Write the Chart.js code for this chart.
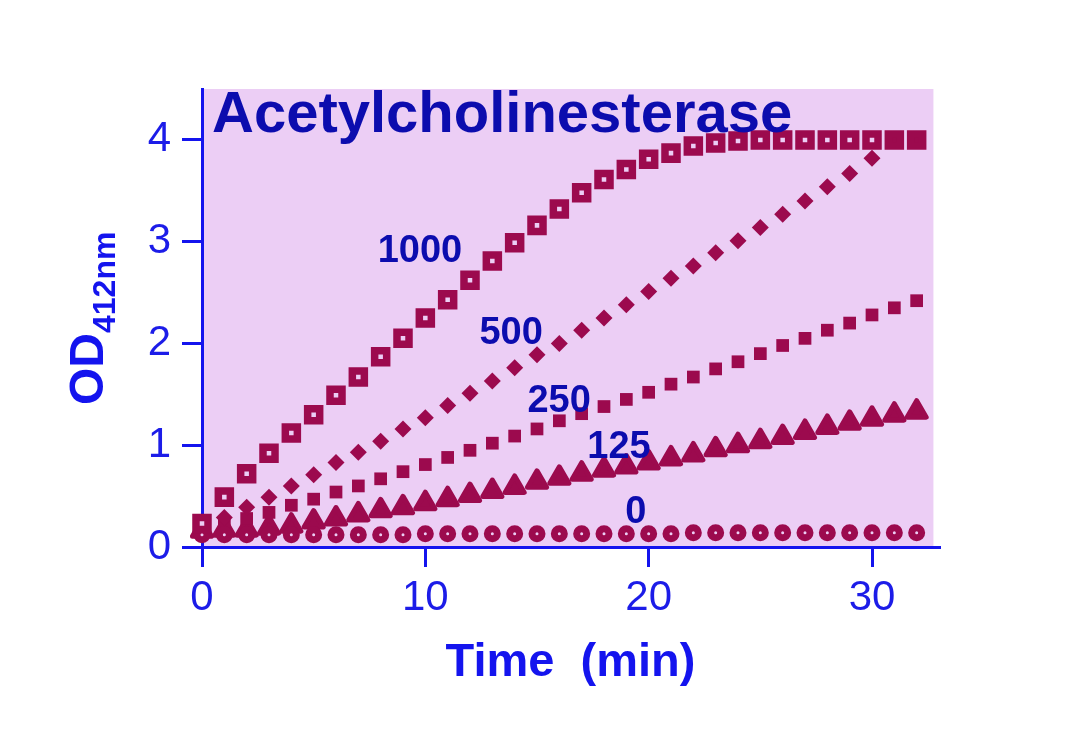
<!DOCTYPE html>
<html>
<head>
<meta charset="utf-8">
<script src="https://cdn.jsdelivr.net/npm/chart.js@4.4.0/dist/chart.umd.min.js"></script>
<style>
  html, body { margin: 0; padding: 0; background: #fff; }
  canvas { display: block; }
</style>
</head>
<body>
<canvas id="chart" width="1086" height="738"></canvas>
<script>
// time points (min) and OD412 readings, one array per enzyme concentration
const times = [0,1,2,3,4,5,6,7,8,9,10,11,12,13,14,15,16,17,18,19,20,21,22,23,24,25,26,27,28,29,30,31,32];
const od1000 = [0.23,0.49,0.72,0.92,1.12,1.30,1.49,1.67,1.87,2.05,2.25,2.43,2.62,2.81,2.99,3.16,3.32,3.48,3.61,3.71,3.81,3.87,3.94,3.97,3.99,4.00,4.00,4.00,4.00,4.00,4.00,4.00,4.00];
const od500 = [0.19,0.29,0.39,0.49,0.60,0.71,0.83,0.93,1.04,1.16,1.27,1.39,1.51,1.63,1.76,1.89,2.00,2.13,2.25,2.38,2.51,2.64,2.76,2.89,3.01,3.14,3.27,3.40,3.54,3.67,3.82];
const od250 = [0.17,0.22,0.28,0.34,0.41,0.47,0.54,0.60,0.67,0.74,0.81,0.88,0.95,1.02,1.09,1.16,1.24,1.31,1.38,1.45,1.52,1.60,1.67,1.75,1.82,1.90,1.98,2.05,2.13,2.20,2.28,2.35,2.42];
const od125 = [0.16,0.17,0.17,0.19,0.21,0.25,0.28,0.32,0.36,0.39,0.43,0.47,0.51,0.55,0.59,0.64,0.68,0.72,0.76,0.79,0.83,0.87,0.91,0.96,1.00,1.04,1.08,1.13,1.18,1.22,1.26,1.30,1.33];
const od0 = [0.12,0.12,0.12,0.12,0.12,0.12,0.12,0.12,0.12,0.12,0.13,0.13,0.13,0.13,0.13,0.13,0.13,0.13,0.13,0.13,0.13,0.13,0.14,0.14,0.14,0.14,0.14,0.14,0.14,0.14,0.14,0.14,0.14];

const xTicks = [0, 10, 20, 30];
const yTicks = [0, 1, 2, 3, 4];

// in-plot labels: text + anchor in data units
const seriesLabels = [
  { text: '1000', x: 9.76, y: 2.90 },
  { text: '500',  x: 13.84, y: 2.10 },
  { text: '250',  x: 15.99, y: 1.43 },
  { text: '125',  x: 18.67, y: 0.98 },
  { text: '0',    x: 19.43, y: 0.34 }
];

const FONT = '"Liberation Sans", Arial, sans-serif';
const MARK = '#9c0a4e';
const PLOT_BG = '#eccef5';
const AXIS = '#1414ee';
const TICK_TXT = '#1c1ce8';
const DARK_BLUE = '#0c0cae';

function pts(ys){
  return ys.map((y, i) => ({ x: times[i], y: y }));
}

// lavender plot area (stops a little short of the x axis end)
const plotBg = {
  id: 'plotBg',
  beforeDraw(chart){
    const {ctx, chartArea, scales} = chart;
    const right = scales.x.getPixelForValue(32.75);
    ctx.save();
    ctx.fillStyle = PLOT_BG;
    ctx.fillRect(chartArea.left, chartArea.top, right - chartArea.left, chartArea.bottom - chartArea.top);
    ctx.restore();
  }
};

// rounded corners for the triangle markers only
const joins = {
  id: 'joins',
  beforeDatasetDraw(chart, args){
    chart.ctx.save();
    chart.ctx.lineJoin = chart.data.datasets[args.index].pointStyle === 'triangle' ? 'round' : 'miter';
  },
  afterDatasetDraw(chart){
    chart.ctx.restore();
  }
};

const texts = {
  id: 'texts',
  afterDraw(chart){
    const {ctx, chartArea, scales} = chart;
    ctx.save();
    // title inside the plot
    ctx.fillStyle = DARK_BLUE;
    ctx.font = 'bold 58px ' + FONT;
    ctx.textAlign = 'left';
    ctx.textBaseline = 'alphabetic';
    ctx.fillText('Acetylcholinesterase', chartArea.left + 10, chartArea.top + 43);

    // concentration labels
    ctx.font = 'bold 38px ' + FONT;
    ctx.textAlign = 'center';
    ctx.textBaseline = 'middle';
    for (const l of seriesLabels) {
      ctx.fillText(l.text, scales.x.getPixelForValue(l.x), scales.y.getPixelForValue(l.y));
    }

    // y axis title with subscript
    ctx.fillStyle = AXIS;
    ctx.translate(103, 405);
    ctx.rotate(-Math.PI / 2);
    ctx.textAlign = 'left';
    ctx.textBaseline = 'alphabetic';
    ctx.font = 'bold 48px ' + FONT;
    ctx.fillText('OD', 0, 0);
    const w = ctx.measureText('OD').width;
    ctx.font = 'bold 32px ' + FONT;
    ctx.fillText('412nm', w, 12);
    ctx.restore();
  }
};

const ctx = document.getElementById('chart').getContext('2d');
new Chart(ctx, {
  type: 'scatter',
  data: {
    datasets: [
      { label: '1000', data: pts(od1000), pointStyle: 'rect', pointRadius: 8.5, borderWidth: 7.5,
        borderColor: MARK, backgroundColor: od1000.map((v, i) => i >= 31 ? MARK : PLOT_BG), clip: false },
      { label: '0', data: pts(od0), pointStyle: 'circle', pointRadius: 5, borderWidth: 7,
        borderColor: MARK, backgroundColor: PLOT_BG, clip: false },
      { label: '500', data: pts(od500), pointStyle: 'rectRot', pointRadius: 8.5, borderWidth: 0,
        borderColor: MARK, backgroundColor: MARK, clip: false },
      { label: '250', data: pts(od250), pointStyle: 'rect', pointRadius: 9, borderWidth: 0,
        borderColor: MARK, backgroundColor: MARK, clip: false },
      { label: '125', data: pts(od125), pointStyle: 'triangle', pointRadius: 11, borderWidth: 5,
        borderColor: MARK, backgroundColor: MARK, clip: false }
    ]
  },
  options: {
    responsive: false,
    animation: false,
    devicePixelRatio: 1,
    layout: { padding: { left: 0, top: 89, right: 147, bottom: 0 } },
    plugins: { legend: { display: false }, tooltip: { enabled: false } },
    scales: {
      x: {
        type: 'linear', min: 0, max: 33, z: 1,
        afterBuildTicks: s => { s.ticks = xTicks.map(v => ({ value: v })); },
        ticks: { color: TICK_TXT, font: { family: FONT, size: 42 }, padding: 6, maxRotation: 0 },
        grid: { drawOnChartArea: false, drawTicks: true, tickLength: 20, color: AXIS, lineWidth: 3 },
        border: { color: AXIS, width: 3 },
        title: { display: true, text: 'Time  (min)', color: AXIS,
                 font: { family: FONT, size: 47, weight: 'bold' }, padding: { top: 0, bottom: 47 } },
        afterFit: s => { s.height = 191; }
      },
      y: {
        type: 'linear', min: 0, max: 4.5, z: 1,
        afterBuildTicks: s => { s.ticks = yTicks.map(v => ({ value: v })); },
        ticks: { color: TICK_TXT, font: { family: FONT, size: 42 }, padding: 11 },
        grid: { drawOnChartArea: false, drawTicks: true, tickLength: 20, color: AXIS, lineWidth: 3 },
        border: { color: AXIS, width: 3 },
        afterFit: s => { s.width = 202; }
      }
    }
  },
  plugins: [plotBg, joins, texts]
});
</script>
</body>
</html>
